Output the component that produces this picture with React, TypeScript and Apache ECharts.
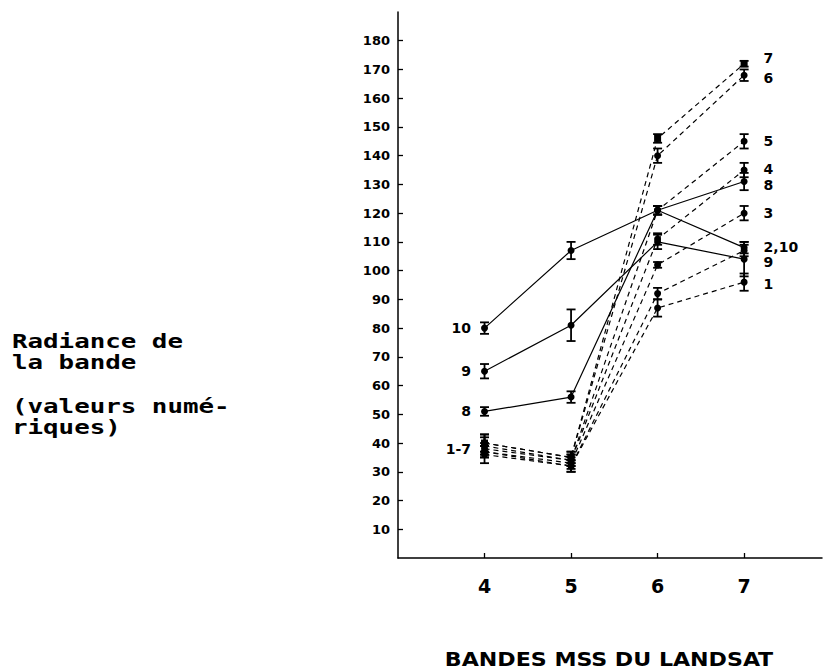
import React, { useEffect, useRef } from "react";
import * as echarts from "echarts";

const bands = [4, 5, 6, 7];

const s1 = [36, 32, 87, 96];
const s2 = [37, 32, 92, 107];
const s3 = [37, 33, 102, 120];
const s4 = [38, 34, 111, 135];
const s5 = [39, 34, 121, 145];
const s6 = [40, 35, 140, 168];
const s7 = [40, 35, 146, 172];
const s8 = [51, 56, 121, 131];
const s9 = [65, 81, 110, 104];
const s10 = [80, 107, 121, 108];

const e1 = [3, 2, 3, 3];
const e2 = [2, 2, 2, 2];
const e3 = [2, 2, 1, 2.5];
const e4 = [2, 2, 2, 2.5];
const e5 = [3, 2, 1.5, 2.5];
const e6 = [3, 2, 2.5, 2];
const e7 = [3, 2, 1.5, 1];
const e8 = [1.5, 2, 1.5, 3];
const e9 = [2.5, 5.5, 2.5, 6];
const e10 = [2, 3, 1.5, 2];

const seriesNames = ["1", "2", "3", "4", "5", "6", "7", "8", "9", "10"];
const seriesValues = [s1, s2, s3, s4, s5, s6, s7, s8, s9, s10];
const seriesErrors = [e1, e2, e3, e4, e5, e6, e7, e8, e9, e10];
const dashedSeries = [true, true, true, true, true, true, true, false, false, false];

const yTicks = [10, 20, 30, 40, 50, 60, 70, 80, 90, 100, 110, 120, 130, 140, 150, 160, 170, 180];

const leftLabelText = ["10", "9", "8", "1-7"];
const leftLabelY = [80, 65, 51, 38];
const rightLabelText = ["7", "6", "5", "4", "8", "3", "2,10", "9", "1"];
const rightLabelY = [174, 167, 145, 135.5, 129.7, 120, 108.3, 103, 95.5];

const yTitleLines = ["Radiance de", "la bande", "(valeurs numé-", "riques)"];
const xTitle = "BANDES MSS DU LANDSAT";

const INK = "#000";
const LABEL_FONT = "'DejaVu Sans', sans-serif";

export default function App() {
  const ref = useRef<HTMLDivElement>(null);

  useEffect(() => {
    document.body.style.margin = "0";
    if (!ref.current) return;
    const chart = echarts.init(ref.current, undefined, { renderer: "svg" });

    const lineSeries = seriesValues.map((vals, k) => ({
      type: "line",
      name: seriesNames[k],
      data: bands.map((b, i) => [b, vals[i]]),
      symbol: k === 6 ? "rect" : "circle",
      symbolSize: 7,
      itemStyle: { color: INK },
      lineStyle: { color: INK, width: 1.2, type: dashedSeries[k] ? [5, 4] : "solid" },
      emphasis: { disabled: true },
      z: 3,
    }));

    const errData: number[][] = [];
    seriesValues.forEach((vals, k) => {
      bands.forEach((b, i) => errData.push([b, vals[i], seriesErrors[k][i]]));
    });

    const errSeries = {
      type: "custom",
      data: errData,
      encode: { x: 0, y: 1 },
      z: 4,
      renderItem: (params: any, api: any) => {
        const x = api.value(0);
        const v = api.value(1);
        const e = api.value(2);
        const top = api.coord([x, v + e]);
        const bot = api.coord([x, v - e]);
        const hw = 4.5;
        const st = { stroke: INK, lineWidth: 1.8 };
        return {
          type: "group",
          children: [
            { type: "line", shape: { x1: top[0], y1: top[1], x2: bot[0], y2: bot[1] }, style: st },
            { type: "line", shape: { x1: top[0] - hw, y1: top[1], x2: top[0] + hw, y2: top[1] }, style: st },
            { type: "line", shape: { x1: bot[0] - hw, y1: bot[1], x2: bot[0] + hw, y2: bot[1] }, style: st },
          ],
        };
      },
    };

    const labelStyle = {
      show: true,
      formatter: (p: any) => p.name,
      color: INK,
      opacity: 1,
      fontFamily: LABEL_FONT,
      fontWeight: "bold",
      fontSize: 14,
    };

    const leftLabels = {
      type: "scatter",
      symbolSize: 1,
      itemStyle: { color: "#fff", opacity: 0 },
      emphasis: { disabled: true },
      data: leftLabelText.map((t, i) => ({ name: t, value: [bands[0], leftLabelY[i]] })),
      label: { ...labelStyle, position: "left", distance: 13 },
      z: 5,
    };

    const rightLabels = {
      type: "scatter",
      symbolSize: 1,
      itemStyle: { color: "#fff", opacity: 0 },
      emphasis: { disabled: true },
      data: rightLabelText.map((t, i) => ({ name: t, value: [bands[3], rightLabelY[i]] })),
      label: { ...labelStyle, position: "right", distance: 19 },
      z: 5,
    };

    const yTitleY = [341, 362, 406, 427];
    const titleGraphics: any[] = yTitleLines.map((line, i) => ({
      type: "text",
      x: 12,
      y: yTitleY[i],
      scaleX: 1.36,
      style: {
        text: line,
        fill: INK,
        font: "bold 19px 'DejaVu Sans Mono', monospace",
        textAlign: "left",
        textVerticalAlign: "middle",
      },
    }));

    titleGraphics.push({
      type: "text",
      x: 609,
      y: 659,
      scaleX: 1.23,
      style: {
        text: xTitle,
        fill: INK,
        font: "bold 20px 'DejaVu Sans Condensed', sans-serif",
        textAlign: "center",
        textVerticalAlign: "middle",
      },
    });

    chart.setOption({
      animation: false,
      backgroundColor: "#fff",
      grid: { left: 398, right: 3, top: 12, bottom: 114, outerBoundsMode: "none" },
      xAxis: {
        type: "value",
        min: 3,
        max: 7.9,
        splitLine: { show: false },
        axisLine: { show: true, lineStyle: { color: INK, width: 1.5 } },
        axisTick: { show: true, inside: true, length: 5, customValues: bands, lineStyle: { color: INK, width: 1.3 } },
        axisLabel: {
          customValues: bands,
          margin: 18,
          color: INK,
          fontFamily: LABEL_FONT,
          fontWeight: "bold",
          fontSize: 19,
        },
      },
      yAxis: {
        type: "value",
        min: 0,
        max: 190,
        splitLine: { show: false },
        axisLine: { show: true, lineStyle: { color: INK, width: 1.5 } },
        axisTick: { show: true, inside: true, length: 5, customValues: yTicks, lineStyle: { color: INK, width: 1.3 } },
        axisLabel: {
          customValues: yTicks,
          margin: 8,
          color: INK,
          fontFamily: LABEL_FONT,
          fontWeight: "bold",
          fontSize: 13,
        },
      },
      graphic: titleGraphics,
      series: [...lineSeries, errSeries, leftLabels, rightLabels],
    });

    return () => chart.dispose();
  }, []);

  return <div ref={ref} style={{ width: 825, height: 672 }} />;
}
